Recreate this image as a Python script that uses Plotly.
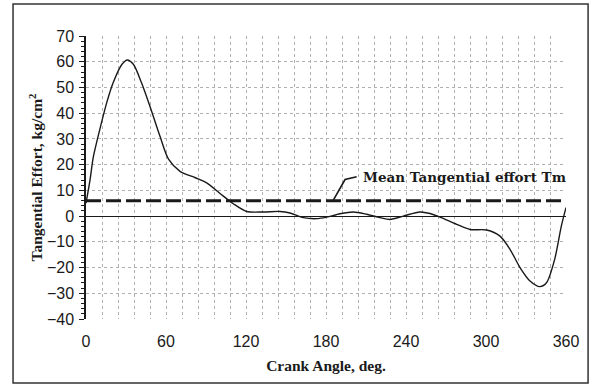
import plotly.graph_objects as go

# ---- data ----
crank_angle = [0, 3, 5.5, 10.5, 15.5, 20.5, 27, 31, 35.5, 41.5, 48, 55.5, 62, 70.5, 82,
               90.5, 100.5, 110.5, 120.5, 133, 145.5, 153, 163, 173, 180.5, 190.5, 200.5,
               210.5, 220.5, 228, 238, 250.5, 258, 265.5, 278, 288, 300.5, 310.5, 318,
               325.5, 333, 340.5, 345.5, 351.5, 356.5, 360]
tangential_effort = [5, 14, 23, 34, 44, 52, 59, 60.7, 59, 52, 42.6, 31, 22, 17.4, 14.9,
                     12.9, 8.8, 4.8, 1.8, 1.6, 1.8, 1.2, -0.6, -1.0, -0.4, 0.9, 1.6,
                     0.7, -0.6, -1.3, 0, 1.6, 1.0, -0.4, -3.2, -5.2, -5.4, -7.8, -12.9,
                     -20, -25.2, -27.4, -25.8, -16.8, -3.9, 3.3]
mean_effort = 6
x_range = [0, 360]
y_range = [-40, 70]
x_ticks = [0, 60, 120, 180, 240, 300, 360]
y_ticks = [-40, -30, -20, -10, 0, 10, 20, 30, 40, 50, 60, 70]
label_text = "Mean Tangential effort Tm"
leader_x = [185.5, 194.3, 203]
leader_y = [6.2, 14.2, 15.3]

ink = "#1a1a1a"
grid = "#b0b0b0"
tick_font = dict(family="Liberation Sans, Arial, sans-serif", size=16, color=ink)
title_font = dict(family="Liberation Serif, Times New Roman, serif", size=15.5, color=ink)

fig = go.Figure()

fig.add_trace(go.Scatter(
    x=[x_range[0], x_range[1]], y=[mean_effort, mean_effort], mode="lines",
    line=dict(color=ink, width=3, dash="15px,5px"), showlegend=False, hoverinfo="skip"))

fig.add_trace(go.Scatter(
    x=crank_angle, y=tangential_effort, mode="lines",
    line=dict(color=ink, width=1.4, shape="spline", smoothing=0.8),
    showlegend=False))

# leader line of the annotation
fig.add_trace(go.Scatter(
    x=leader_x, y=leader_y, mode="lines",
    line=dict(color=ink, width=1.6), showlegend=False, hoverinfo="skip"))

fig.add_annotation(
    x=leader_x[-1] + 3, y=leader_y[-1], xref="x", yref="y", text="<b>" + label_text + "</b>",
    showarrow=False, xanchor="left", yanchor="middle",
    font=dict(family="DejaVu Serif, serif", size=13.5, color=ink))

fig.update_layout(
    width=596, height=384,
    margin=dict(l=86, r=30, t=36, b=65),
    paper_bgcolor="white", plot_bgcolor="white",
    xaxis=dict(
        range=x_range, tickvals=x_ticks, ticks="", ticklabelstandoff=11, automargin=False,
        tickfont=tick_font, showgrid=True, gridcolor=grid, griddash="dot", gridwidth=1,
        minor=dict(dtick=12, tick0=0, showgrid=True, gridcolor=grid, griddash="dot", gridwidth=1),
        zeroline=False, showline=False,
        title=dict(text="<b>Crank Angle, deg.</b>", font=title_font, standoff=11),
    ),
    xaxis2=dict(
        range=x_range, tickvals=x_ticks, overlaying="x", anchor="free",
        position=(0 - y_range[0]) / (y_range[1] - y_range[0]), side="bottom",
        ticks="outside", ticklen=5, tickcolor=ink, showticklabels=False, automargin=False,
        showgrid=False, zeroline=False, showline=False,
    ),
    yaxis=dict(
        range=y_range, tickvals=y_ticks, ticks="outside", ticklen=5, tickcolor=ink,
        tickfont=tick_font, ticklabelstandoff=2, automargin=False,
        showgrid=True, gridcolor=grid, griddash="dot", gridwidth=1,
        minor=dict(dtick=2, ticks="outside", ticklen=3, tickcolor=ink, showgrid=False),
        zeroline=True, zerolinecolor=ink, zerolinewidth=1.2,
        showline=True, linecolor=ink, linewidth=1.5,
        title=dict(text="<b>Tangential Effort, kg/cm<sup>2</sup></b>", font=title_font, standoff=0),
    ),
    shapes=[dict(type="rect", xref="paper", yref="paper",
                 x0=-0.152, x1=1.046, y0=-0.226, y1=1.113,
                 line=dict(color="#333", width=1.5))],
)

fig.write_html("out.html")
